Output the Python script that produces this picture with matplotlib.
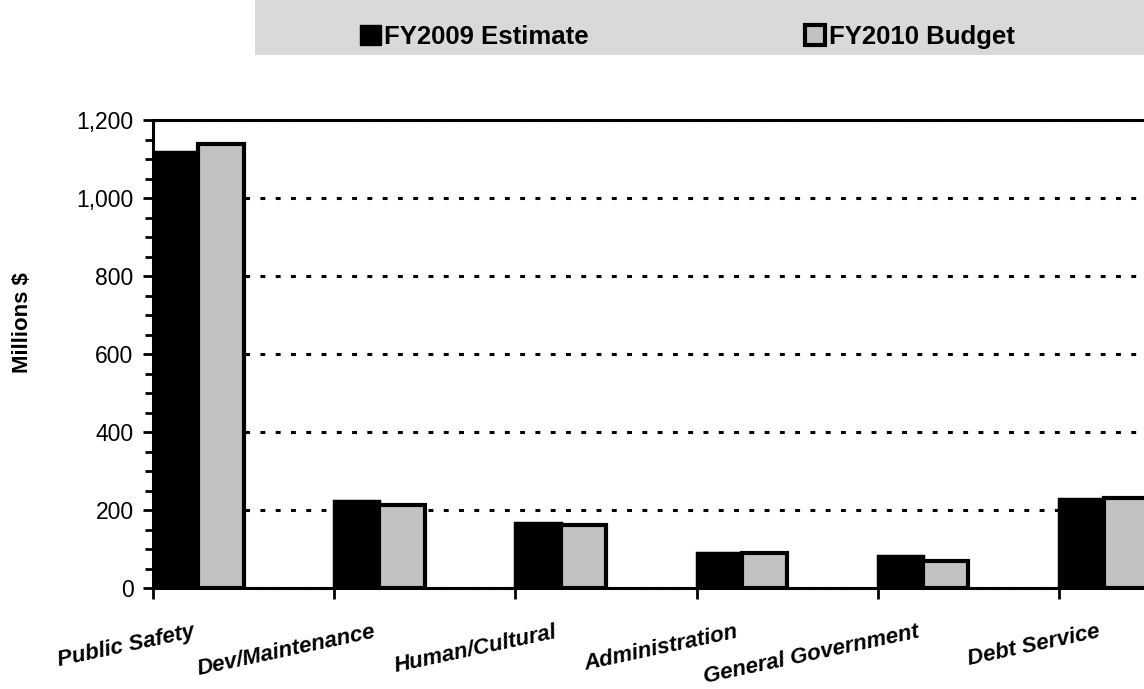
import numpy as np
import matplotlib.pyplot as plt
from matplotlib.patches import Patch, Rectangle
from matplotlib.ticker import FuncFormatter, MultipleLocator

# Spending by service area, millions of dollars
categories = ["Public Safety", "Dev/Maintenance", "Human/Cultural",
              "Administration", "General Government", "Debt Service"]
fy2009_estimate = [1117, 224, 166, 90, 83, 229]
fy2010_budget = [1138, 212, 161, 89, 68, 232]

plt.rcParams['font.family'] = ['Liberation Sans', 'DejaVu Sans']

fig = plt.figure(figsize=(11.44, 6.89), dpi=100)

# axes run past the right edge of the picture, like the scanned original
ax = fig.add_axes([153 / 1144, 1 - 588 / 689, 6 * 181.2 / 1144, 468 / 689])

x = np.arange(len(categories))
bar_w = 0.25
ax.bar(x + bar_w / 2, fy2009_estimate, bar_w, color="black",
       edgecolor="black", linewidth=2.5, zorder=3)
ax.bar(x + bar_w * 1.5, fy2010_budget, bar_w, color="#c2c2c2",
       edgecolor="black", linewidth=3, zorder=3)

ax.set_xlim(0, 6)
ax.set_ylim(0, 1200)

# y axis
ax.yaxis.set_major_locator(MultipleLocator(200))
ax.yaxis.set_minor_locator(MultipleLocator(50))
ax.yaxis.set_major_formatter(FuncFormatter(lambda v, p: f"{int(v):,}"))
ax.tick_params(axis="y", which="major", direction="out", length=7, width=2,
               labelsize=16.5, pad=7)
ax.tick_params(axis="y", which="minor", direction="out", length=6, width=2)

# x axis: tick marks at category boundaries, labels placed by hand
ax.set_xticks(np.arange(7))
ax.set_xticklabels([])
ax.tick_params(axis="x", which="major", direction="out", length=8, width=2)
for i, name in enumerate(categories):
    ax.text(i + 0.215, -0.072, name, transform=ax.get_xaxis_transform(),
            ha="right", va="top", rotation=12, rotation_mode="anchor",
            fontsize=16, fontweight="bold", fontstyle="italic")

# dotted gridlines
ax.grid(axis="y", color="black", linestyle=(0, (1.6, 3.4)), linewidth=2.2)
ax.set_axisbelow(True)

for side in ["left", "bottom", "top", "right"]:
    ax.spines[side].set_linewidth(2.2)

fig.text(23 / 1144, 1 - 323 / 689, "Millions $", rotation=90,
         ha="center", va="center", fontsize=16, fontweight="bold")

# legend band at the top
fig.patches.append(Rectangle((255 / 1144, 1 - 55 / 689), 1, 55 / 689,
                             transform=fig.transFigure, facecolor="#d9d9d9",
                             edgecolor="none", zorder=0))
handles = [Patch(facecolor="black", edgecolor="black", linewidth=1),
           Patch(facecolor="#c2c2c2", edgecolor="black", linewidth=3)]
fig.legend(handles, ["FY2009 Estimate", "FY2010 Budget"], ncol=2,
           loc="center left", bbox_to_anchor=(360 / 1144, 1 - 37 / 689),
           frameon=False, borderpad=0, borderaxespad=0,
           handlelength=0.8, handleheight=0.85, handletextpad=0.15,
           columnspacing=8.4, prop={"size": 18.5, "weight": "bold"})

fig.savefig("out.png", dpi=100)
